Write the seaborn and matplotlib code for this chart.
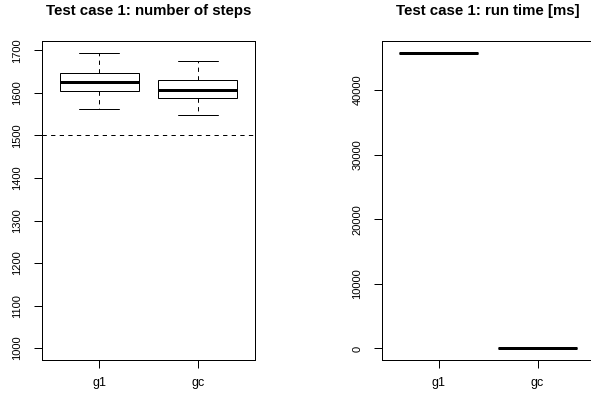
import matplotlib
matplotlib.use("Agg")
import matplotlib.pyplot as plt
import pandas as pd
import seaborn as sns

# Five-number summaries per collector (min, Q1, median, Q3, max)
groups = ["g1", "gc"]
steps_g1 = [1562, 1604, 1626, 1646, 1694]
steps_gc = [1548, 1588, 1606, 1630, 1674]
runtime_g1 = [45770, 45770, 45770, 45770, 45770]
runtime_gc = [40, 40, 40, 40, 40]

steps_ticks = [1000, 1100, 1200, 1300, 1400, 1500, 1600, 1700]
runtime_ticks = [0, 10000, 20000, 30000, 40000]
target_steps = 1500

sns.set_style("ticks")
plt.rcParams["font.family"] = ["Liberation Sans", "DejaVu Sans"]
plt.rcParams["text.color"] = "black"

PX = 72 / 100  # points per pixel at 100 dpi

steps_df = pd.DataFrame({
    "group": ["g1"] * len(steps_g1) + ["gc"] * len(steps_gc),
    "value": steps_g1 + steps_gc,
})
runtime_df = pd.DataFrame({
    "group": ["g1"] * len(runtime_g1) + ["gc"] * len(runtime_gc),
    "value": runtime_g1 + runtime_gc,
})

fig = plt.figure(figsize=(5.91, 3.96), dpi=100)
ax1 = fig.add_axes([42 / 591, 36 / 396, 213 / 591, 319 / 396])
ax2 = fig.add_axes([381.7 / 591, 36 / 396, 213 / 591, 319 / 396])

box_kw = dict(
    x="group", y="value", order=groups, width=0.8, whis=1.5,
    color="white", linecolor="black", linewidth=1 * PX, fliersize=3,
    whiskerprops=dict(linestyle=(0, (4.3, 4.3)), linewidth=1 * PX),
    medianprops=dict(linewidth=3 * PX, color="black"),
    capprops=dict(linewidth=1 * PX),
)

sns.boxplot(data=steps_df, ax=ax1, **box_kw)
ax1.axhline(target_steps, color="black", linewidth=1 * PX,
            linestyle=(0, (4.3, 4.3)))
sns.boxplot(data=runtime_df, ax=ax2, **box_kw)


def lims(lo, hi):
    pad = (hi - lo) * 0.04
    return lo - pad, hi + pad


ax1.set_ylim(*lims(1000, max(steps_g1 + steps_gc)))
ax2.set_ylim(*lims(min(runtime_g1 + runtime_gc), max(runtime_g1 + runtime_gc)))
ax1.set_yticks(steps_ticks)
ax2.set_yticks(runtime_ticks)

for ax, title, ticks in [
    (ax1, "Test case 1: number of steps", steps_ticks),
    (ax2, "Test case 1: run time [ms]", runtime_ticks),
]:
    ax.set_xlim(-0.58, 1.58)
    ax.set_xlabel("")
    ax.set_ylabel("")
    ax.set_yticklabels([str(t) for t in ticks], rotation=90, va="center",
                       fontsize=8)
    ax.set_xticks([0, 1])
    ax.set_xticklabels(groups, fontsize=9)
    ax.tick_params(axis="both", direction="out", length=6, width=1 * PX,
                   color="black", labelcolor="black")
    ax.tick_params(axis="y", pad=8)
    ax.tick_params(axis="x", pad=6)
    for sp in ax.spines.values():
        sp.set_visible(True)
        sp.set_color("black")
        sp.set_linewidth(1 * PX)
    ax.set_title(title, fontsize=10.8, fontweight="bold", color="black",
                 pad=18.5)

fig.savefig("out.png", dpi=100, facecolor="white")
